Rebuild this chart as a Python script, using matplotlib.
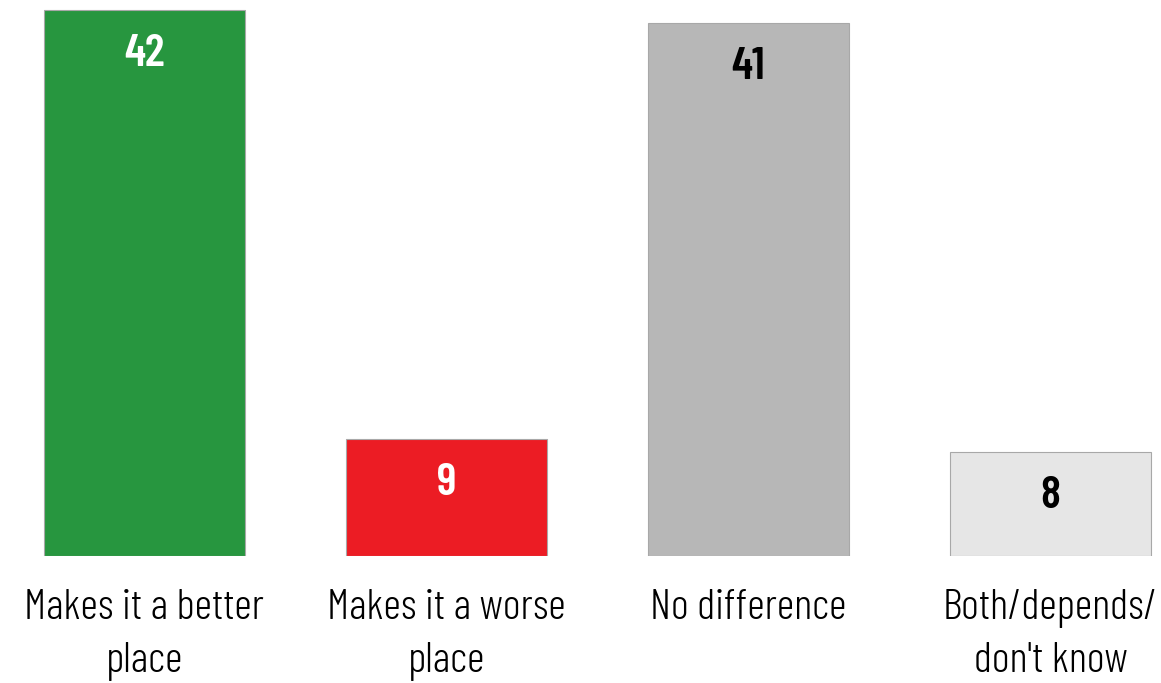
import matplotlib.pyplot as plt

categories = ['Makes it a better\nplace', 'Makes it a worse\nplace', 'No difference', "Both/depends/\ndon't know"]
values = [42, 9, 41, 8]
colors = ['#27963f', '#ec1c24', '#b7b7b7', '#e6e6e6']
label_colors = ['white', 'white', 'black', 'black']

font = ['Barlow Condensed', 'DejaVu Sans']

fig = plt.figure(figsize=(11.61, 6.83), dpi=100)
ax = fig.add_axes([0, 0.186, 1, 0.814])

x = range(len(values))
bars = ax.bar(x, values, width=0.666, color=colors, edgecolor='#a8a8a8', linewidth=0.8)

# value labels inside the bars
for i, v in enumerate(values):
    ax.text(i, v - 3.35, str(v), ha='center', va='center', fontsize=33, fontweight=600,
            color=label_colors[i], family=font)

ax.set_xlim(-0.478, 3.366)
ax.set_ylim(0, 42.77)
ax.set_xticks(list(x))
ax.set_xticklabels(categories, fontsize=31, family=font, fontweight=300, linespacing=1.45)
ax.tick_params(axis='x', length=0, pad=24)
ax.set_yticks([])
for s in ax.spines.values():
    s.set_visible(False)

fig.savefig('out.png', dpi=100)
